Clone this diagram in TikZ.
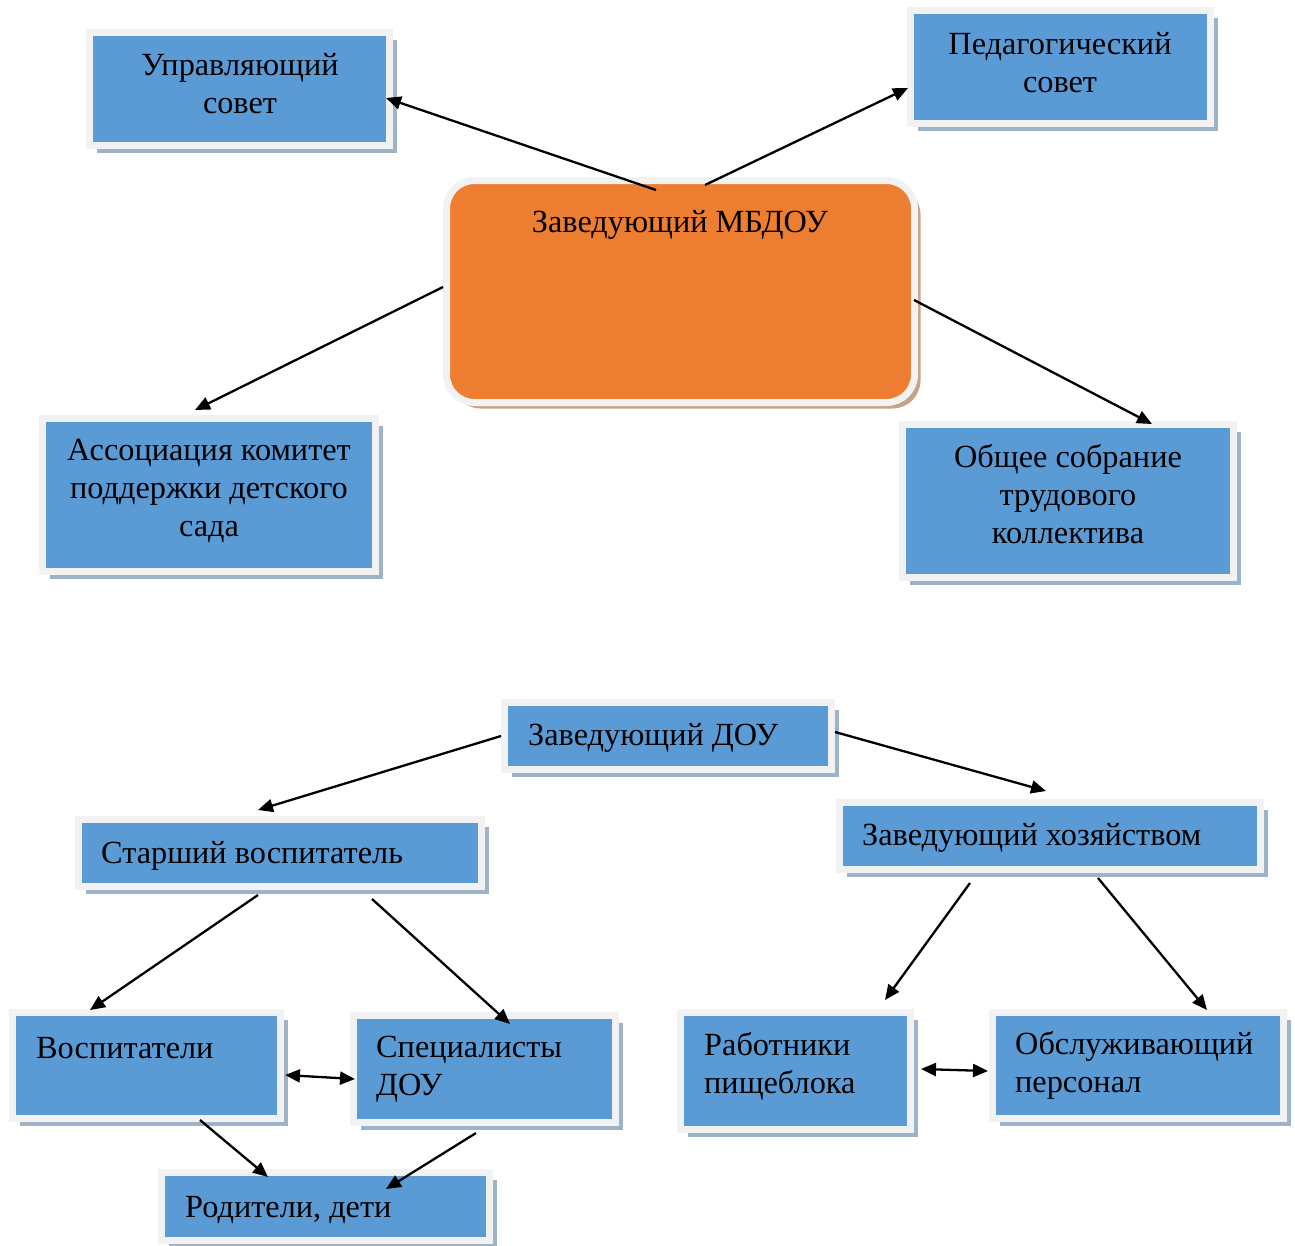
\documentclass[tikz,border=0pt]{standalone}
\usepackage{fontspec}
\setmainfont{Liberation Serif}
\usetikzlibrary{arrows.meta,calc,shadows}
\definecolor{boxblue}{HTML}{5B9BD5}
\definecolor{boxorange}{HTML}{ED7D31}
\definecolor{framegray}{HTML}{F2F2F2}
\definecolor{blueshadow}{HTML}{9FB3C8}
\definecolor{orangeshadow}{HTML}{C8A288}
\begin{document}
\begin{tikzpicture}[x=1pt,y=-1pt,
  bluebox/.style={rectangle, fill=boxblue, draw=framegray, line width=7pt,
    inner sep=0pt, outer sep=0pt,
    drop shadow={shadow xshift=7pt, shadow yshift=-7pt, fill=blueshadow, opacity=1}},
  orangebox/.style={rectangle, rounded corners=28pt, fill=boxorange, draw=framegray, line width=7pt,
    inner sep=0pt, outer sep=0pt,
    drop shadow={shadow xshift=6pt, shadow yshift=-6pt, fill=orangeshadow, opacity=1}},
  txt/.style={inner sep=0pt, font=\fontsize{32.3}{38}\selectfont},
  ctxt/.style={txt, align=center},
  ltxt/.style={txt, align=left, anchor=west},
  conn/.style={line width=2.3pt, -{Triangle[length=15pt,width=13pt]}},
  dconn/.style={line width=2.3pt, {Triangle[length=15pt,width=13pt]}-{Triangle[length=15pt,width=13pt]}}
]
\useasboundingbox (0,0) rectangle (1295,1245);

% boxes
\node[bluebox, minimum width=300, minimum height=113] (up) at (239.5,89) {};
\node[bluebox, minimum width=300, minimum height=113] (ped) at (1060.5,67) {};
\node[orangebox, minimum width=468, minimum height=222] (zav) at (680.5,291.5) {};
\node[bluebox, minimum width=333, minimum height=153] (assoc) at (209,495) {};
\node[bluebox, minimum width=331, minimum height=153] (obsh) at (1068,501) {};
\node[bluebox, minimum width=327, minimum height=67] (zdou) at (668,736) {};
\node[bluebox, minimum width=403, minimum height=67] (star) at (280,853) {};
\node[bluebox, minimum width=421, minimum height=67] (hoz) at (1050,836) {};
\node[bluebox, minimum width=268, minimum height=106] (vosp) at (146.5,1065.5) {};
\node[bluebox, minimum width=262, minimum height=107] (spec) at (484.5,1069) {};
\node[bluebox, minimum width=328, minimum height=68] (rod) at (325.5,1206.5) {};
\node[bluebox, minimum width=230, minimum height=117] (rab) at (795.5,1071) {};
\node[bluebox, minimum width=291, minimum height=106] (obsl) at (1138,1065.5) {};

% texts
\node[ctxt] (tup) at (240,84) {Управляющий\\совет};
\node[ctxt] (tped) at (1060,63) {Педагогический\\совет};
\node[ctxt] (tzav) at (680,225) {Заведующий МБДОУ};
\node[ctxt] (tassoc) at (209,491) {Ассоциация комитет\\поддержки детского\\сада};
\node[ctxt] (tobsh) at (1068,494) {Общее собрание\\трудового\\коллектива};
\node[ltxt] (tzdou) at (528,738) {Заведующий ДОУ};
\node[ltxt] (tstar) at (101,856) {Старший воспитатель};
\node[ltxt] (thoz) at (862,838) {Заведующий хозяйством};
\node[ltxt] (tvosp) at (36,1048) {Воспитатели};
\node[ltxt] (tspec) at (376,1069) {Специалисты\\ДОУ};
\node[ltxt] (trod) at (185,1210) {Родители, дети};
\node[ltxt] (trab) at (704,1066) {Работники\\пищеблока};
\node[ltxt] (tobsl) at (1015,1065) {Обслуживающий\\персонал};

% connectors
\draw[conn] ($(zav.north west)+(209.5,9.5)$) -- ($(up.east)+(-3.5,9)$);
\draw[conn] ($(zav.north west)+(258.5,4.5)$) -- ($(ped.west)+(-2.5,21)$);
\draw[conn] ($(zav.west)+(-3.5,-4.5)$) -- ($(assoc.north west)+(152.5,-8.5)$);
\draw[conn] ($(zav.east)+(-0.5,8.5)$) -- ($(obsh.north west)+(249.5,-0.5)$);
\draw[conn] ($(zdou.west)+(-3.5,0)$) -- ($(star.north west)+(179.5,-9.5)$);
\draw[conn] ($(zdou.east)+(3.5,-4)$) -- ($(hoz.north west)+(206.5,-11.5)$);
\draw[conn] ($(star.south west)+(179.5,8.5)$) -- ($(vosp.north west)+(77.5,-2.5)$);
\draw[conn] ($(star.south west)+(293.5,12.5)$) -- ($(spec.north west)+(156.5,8.5)$);
\draw[conn] ($(hoz.south west)+(130.5,13.5)$) -- ($(rab.north west)+(204.5,-12.5)$);
\draw[conn] ($(hoz.south west)+(258.5,8.5)$) -- ($(obsl.north west)+(214.5,-2.5)$);
\draw[dconn] ($(vosp.east)+(4.5,9.5)$) -- ($(spec.west)+(1.5,10)$);
\draw[dconn] ($(rab.east)+(10.5,-2)$) -- ($(obsl.west)+(-4.5,5.5)$);
\draw[conn] ($(vosp.south west)+(187.5,1.5)$) -- ($(rod.north west)+(106.5,4.5)$);
\draw[conn] ($(spec.south west)+(122.5,10.5)$) -- ($(rod.north west)+(224.5,16.5)$);
\end{tikzpicture}
\end{document}
